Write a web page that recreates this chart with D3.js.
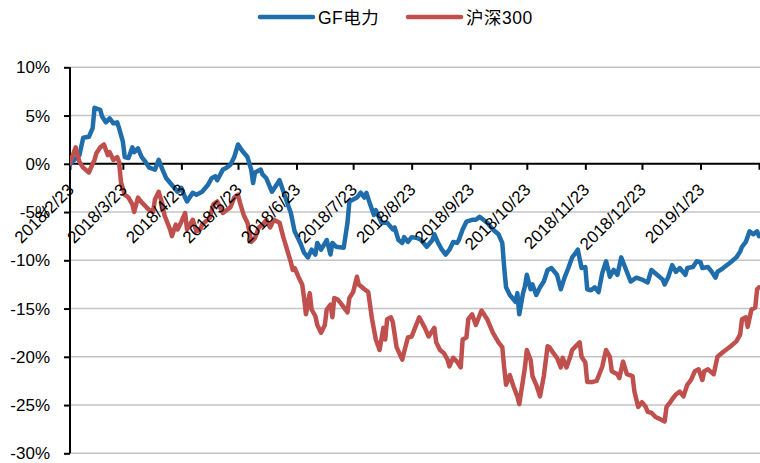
<!DOCTYPE html>
<html><head><meta charset="utf-8">
<script src="https://cdn.jsdelivr.net/npm/d3@7"></script>
<style>
html,body{margin:0;padding:0;background:#fff;}
svg{display:block;font-family:"Liberation Sans",Arial,"Noto Sans CJK SC",sans-serif;}
</style></head>
<body><svg id="c" width="760" height="463"></svg>
<script>
const seriesNames = ["GF电力", "沪深300"];
const seriesColors = ["#1f6dab", "#c0504d"];
const tickDates = ["2018-02-23","2018-03-23","2018-04-23","2018-05-23","2018-06-23","2018-07-23","2018-08-23","2018-09-23","2018-10-23","2018-11-23","2018-12-23","2019-01-23","2019-02-23"];
const tickLabels = ["2018/2/23","2018/3/23","2018/4/23","2018/5/23","2018/6/23","2018/7/23","2018/8/23","2018/9/23","2018/10/23","2018/11/23","2018/12/23","2019/1/23",""];
const yTicks = [10,5,0,-5,-10,-15,-20,-25,-30];

const gfDates = ["2018-02-23","2018-02-28","2018-03-02","2018-03-05","2018-03-07","2018-03-08","2018-03-11","2018-03-12","2018-03-14","2018-03-16","2018-03-18","2018-03-20","2018-03-21","2018-03-23","2018-03-24","2018-03-26","2018-03-28","2018-03-29","2018-03-31","2018-04-02","2018-04-04","2018-04-06","2018-04-09","2018-04-11","2018-04-13","2018-04-15","2018-04-18","2018-04-21","2018-04-23","2018-04-25","2018-04-26","2018-04-29","2018-05-01","2018-05-04","2018-05-07","2018-05-09","2018-05-11","2018-05-12","2018-05-15","2018-05-17","2018-05-19","2018-05-21","2018-05-23","2018-05-25","2018-05-28","2018-05-30","2018-05-31","2018-06-01","2018-06-04","2018-06-05","2018-06-07","2018-06-10","2018-06-14","2018-06-18","2018-06-20","2018-06-22","2018-06-25","2018-06-27","2018-06-29","2018-07-01","2018-07-03","2018-07-04","2018-07-06","2018-07-09","2018-07-11","2018-07-12","2018-07-14","2018-07-18","2018-07-20","2018-07-21","2018-07-23","2018-07-25","2018-07-27","2018-07-29","2018-07-30","2018-08-01","2018-08-03","2018-08-04","2018-08-07","2018-08-10","2018-08-13","2018-08-14","2018-08-16","2018-08-18","2018-08-19","2018-08-21","2018-08-23","2018-08-26","2018-08-28","2018-08-31","2018-09-03","2018-09-04","2018-09-06","2018-09-08","2018-09-10","2018-09-12","2018-09-14","2018-09-16","2018-09-17","2018-09-19","2018-09-21","2018-09-24","2018-09-26","2018-09-28","2018-09-30","2018-10-02","2018-10-05","2018-10-08","2018-10-10","2018-10-11","2018-10-12","2018-10-14","2018-10-17","2018-10-18","2018-10-19","2018-10-21","2018-10-22","2018-10-23","2018-10-25","2018-10-26","2018-10-28","2018-10-30","2018-11-01","2018-11-03","2018-11-05","2018-11-08","2018-11-10","2018-11-12","2018-11-14","2018-11-16","2018-11-18","2018-11-19","2018-11-21","2018-11-23","2018-11-24","2018-11-26","2018-11-28","2018-11-30","2018-12-02","2018-12-04","2018-12-06","2018-12-08","2018-12-10","2018-12-12","2018-12-14","2018-12-17","2018-12-20","2018-12-23","2018-12-26","2018-12-28","2018-12-31","2019-01-03","2019-01-04","2019-01-06","2019-01-08","2019-01-10","2019-01-12","2019-01-15","2019-01-16","2019-01-19","2019-01-21","2019-01-23","2019-01-24","2019-01-27","2019-01-29","2019-01-31","2019-02-01","2019-02-04","2019-02-08","2019-02-11","2019-02-13","2019-02-14","2019-02-16","2019-02-18","2019-02-20","2019-02-22","2019-02-23"];
const gfValues = [0.0,0.9,2.7,2.8,3.7,5.8,5.6,4.9,4.3,4.7,4.2,4.3,3.7,2.3,0.7,0.6,1.7,1.2,1.6,0.7,0.2,-0.4,-0.6,0.4,-0.6,-1.5,-2.2,-2.9,-2.5,-3.5,-3.9,-3.0,-3.2,-2.9,-2.2,-1.5,-1.3,-1.7,-0.6,-0.4,-0.1,0.7,2.0,1.4,0.7,-0.6,-2.0,-0.9,-0.6,-1.1,-1.5,-2.9,-1.7,-4.0,-5.1,-7.0,-8.2,-9.2,-9.7,-8.9,-9.4,-8.2,-8.9,-7.9,-9.4,-8.2,-8.6,-8.7,-6.1,-3.9,-3.7,-3.5,-3.0,-3.5,-3.0,-4.2,-5.3,-4.8,-6.1,-6.1,-6.8,-6.6,-7.9,-8.2,-7.6,-8.1,-7.6,-7.7,-7.9,-8.6,-7.9,-7.3,-8.2,-8.9,-9.4,-8.9,-8.1,-8.2,-7.9,-6.8,-6.0,-5.8,-5.8,-5.5,-5.8,-6.1,-6.8,-7.3,-8.2,-10.7,-12.8,-13.6,-14.3,-13.4,-15.6,-13.4,-12.7,-11.5,-13.0,-12.5,-13.6,-12.8,-12.2,-11.0,-10.8,-11.5,-13.0,-11.8,-10.8,-9.7,-9.2,-8.9,-10.8,-10.7,-13.0,-13.1,-12.8,-13.3,-11.3,-10.1,-11.7,-11.0,-11.5,-9.7,-10.7,-12.2,-11.8,-12.0,-12.3,-11.0,-11.5,-12.0,-12.5,-11.7,-10.5,-11.2,-10.8,-11.5,-10.8,-10.7,-10.1,-10.2,-10.8,-10.7,-11.2,-11.8,-11.2,-10.8,-10.2,-9.7,-9.1,-8.6,-8.1,-7.0,-7.3,-7.0,-7.5];

const hsDates = ["2018-02-23","2018-02-26","2018-02-28","2018-03-02","2018-03-05","2018-03-07","2018-03-08","2018-03-09","2018-03-11","2018-03-13","2018-03-15","2018-03-16","2018-03-18","2018-03-20","2018-03-21","2018-03-22","2018-03-24","2018-03-26","2018-03-28","2018-03-29","2018-03-31","2018-04-02","2018-04-06","2018-04-08","2018-04-09","2018-04-11","2018-04-13","2018-04-14","2018-04-17","2018-04-18","2018-04-20","2018-04-21","2018-04-23","2018-04-25","2018-04-26","2018-04-29","2018-05-01","2018-05-03","2018-05-04","2018-05-08","2018-05-10","2018-05-12","2018-05-15","2018-05-19","2018-05-21","2018-05-23","2018-05-24","2018-05-26","2018-05-28","2018-05-29","2018-05-30","2018-06-01","2018-06-03","2018-06-05","2018-06-07","2018-06-09","2018-06-11","2018-06-13","2018-06-14","2018-06-16","2018-06-18","2018-06-20","2018-06-21","2018-06-22","2018-06-24","2018-06-26","2018-06-27","2018-06-28","2018-06-30","2018-07-01","2018-07-03","2018-07-04","2018-07-06","2018-07-08","2018-07-09","2018-07-11","2018-07-12","2018-07-13","2018-07-15","2018-07-17","2018-07-20","2018-07-21","2018-07-23","2018-07-25","2018-07-26","2018-07-29","2018-07-31","2018-08-02","2018-08-04","2018-08-06","2018-08-08","2018-08-09","2018-08-10","2018-08-12","2018-08-13","2018-08-15","2018-08-18","2018-08-19","2018-08-21","2018-08-23","2018-08-25","2018-08-27","2018-08-30","2018-09-01","2018-09-02","2018-09-04","2018-09-05","2018-09-07","2018-09-09","2018-09-11","2018-09-12","2018-09-14","2018-09-16","2018-09-18","2018-09-19","2018-09-21","2018-09-22","2018-09-24","2018-09-26","2018-09-29","2018-10-02","2018-10-05","2018-10-08","2018-10-10","2018-10-11","2018-10-12","2018-10-14","2018-10-16","2018-10-18","2018-10-19","2018-10-21","2018-10-22","2018-10-23","2018-10-25","2018-10-26","2018-10-28","2018-10-30","2018-11-01","2018-11-03","2018-11-04","2018-11-06","2018-11-08","2018-11-10","2018-11-11","2018-11-13","2018-11-15","2018-11-16","2018-11-18","2018-11-20","2018-11-21","2018-11-23","2018-11-24","2018-11-27","2018-11-29","2018-12-02","2018-12-03","2018-12-04","2018-12-06","2018-12-07","2018-12-10","2018-12-11","2018-12-13","2018-12-15","2018-12-18","2018-12-19","2018-12-21","2018-12-23","2018-12-25","2018-12-26","2018-12-28","2018-12-30","2019-01-02","2019-01-04","2019-01-05","2019-01-07","2019-01-08","2019-01-10","2019-01-12","2019-01-14","2019-01-16","2019-01-18","2019-01-20","2019-01-22","2019-01-24","2019-01-25","2019-01-27","2019-01-30","2019-02-01","2019-02-04","2019-02-08","2019-02-11","2019-02-13","2019-02-14","2019-02-16","2019-02-17","2019-02-19","2019-02-21","2019-02-22","2019-02-23"];
const hsValues = [0.1,1.7,0.2,-0.4,-0.9,0.0,0.4,1.1,1.7,2.0,0.9,1.2,0.4,0.7,0.2,-1.9,-3.2,-3.5,-4.2,-5.0,-3.5,-4.0,-4.8,-5.0,-3.7,-2.9,-4.2,-5.3,-6.8,-7.5,-6.3,-6.8,-6.0,-5.1,-6.8,-5.8,-7.0,-6.8,-6.3,-5.6,-4.2,-3.9,-5.1,-4.5,-3.5,-3.2,-4.0,-5.3,-6.1,-7.0,-8.1,-7.7,-6.6,-6.3,-5.8,-6.6,-5.8,-6.0,-6.1,-7.6,-8.9,-10.2,-11.0,-10.8,-11.7,-12.5,-13.9,-15.6,-13.4,-15.1,-15.8,-16.7,-17.5,-16.7,-15.1,-14.6,-15.9,-13.9,-14.1,-14.6,-15.4,-13.9,-13.3,-11.7,-12.5,-13.0,-13.3,-16.1,-18.2,-19.3,-17.0,-18.2,-16.1,-15.9,-16.4,-19.0,-20.3,-19.5,-18.0,-17.9,-16.9,-15.9,-17.0,-17.9,-17.6,-17.0,-18.5,-19.3,-19.6,-20.3,-21.0,-20.1,-20.5,-21.1,-18.2,-18.0,-16.1,-15.6,-16.7,-15.2,-16.1,-17.5,-18.5,-19.0,-21.1,-22.9,-21.9,-23.1,-24.1,-24.9,-22.4,-21.1,-19.3,-20.3,-22.0,-22.9,-24.1,-22.0,-18.9,-19.0,-19.6,-20.1,-21.1,-20.1,-21.1,-20.0,-19.3,-18.9,-18.5,-20.0,-20.6,-22.6,-22.6,-22.5,-21.0,-20.1,-19.3,-20.0,-21.5,-21.8,-22.2,-20.5,-21.8,-22.0,-23.6,-25.2,-24.7,-25.2,-25.7,-25.8,-26.2,-26.5,-26.7,-25.2,-24.7,-24.4,-23.9,-23.6,-24.1,-22.9,-22.4,-21.5,-21.3,-22.4,-21.5,-21.3,-21.8,-20.0,-19.5,-18.9,-18.4,-17.7,-16.1,-15.9,-16.9,-15.1,-14.9,-13.0,-12.8];

const parse = d3.utcParse("%Y-%m-%d");
const svg = d3.select("#c");
const left = 70, right = 760;
const fontLatin = "'Liberation Sans', Arial, sans-serif";

const x = d3.scaleUtc().domain([parse("2018-02-23"), parse("2019-02-23")]).range([70, 759]);
const y = d3.scaleLinear().domain([-30, 10]).range([453.3, 67.3]);

// gridlines
svg.append("g").selectAll("line").data(yTicks.filter(v => v !== 0)).join("line")
  .attr("x1", left).attr("x2", right)
  .attr("y1", d => y(d)).attr("y2", d => y(d))
  .attr("stroke", "#c4c4c4").attr("stroke-width", 1.6);

// y axis
const yAxis = svg.append("g").attr("transform", `translate(${left},0)`)
  .call(d3.axisLeft(y).tickValues(yTicks).tickFormat(d => d + "%").tickSize(6).tickPadding(14));
yAxis.select(".domain").attr("stroke", "#000").attr("stroke-width", 2).attr("d", `M0,${y(10)}V${y(-30)}`);
yAxis.selectAll(".tick line").attr("stroke", "#000").attr("stroke-width", 2);
yAxis.selectAll(".tick text").attr("font-size", 17).attr("fill", "#000").attr("font-family", fontLatin);

// x axis line at 0
const xAxis = svg.append("g").attr("transform", `translate(0,${y(0)})`)
  .call(d3.axisBottom(x).tickValues(tickDates.map(parse)).tickFormat("").tickSize(6));
xAxis.select(".domain").attr("stroke", "#000").attr("stroke-width", 2).attr("d", `M${left},0H${right}`);
xAxis.selectAll(".tick line").attr("stroke", "#000").attr("stroke-width", 2);

// series lines
svg.append("clipPath").attr("id", "clip").append("rect")
  .attr("x", left).attr("y", 0).attr("width", right - left).attr("height", 463);
const line = d3.line().x(d => x(d.date)).y(d => y(d.value)).curve(d3.curveLinear);
const series = [
  gfDates.map((d, i) => ({date: parse(d), value: gfValues[i]})),
  hsDates.map((d, i) => ({date: parse(d), value: hsValues[i]}))
];
const lg = svg.append("g").attr("clip-path", "url(#clip)");
series.forEach((s, i) => {
  lg.append("path").datum(s).attr("d", line)
    .attr("fill", "none").attr("stroke", seriesColors[i]).attr("stroke-width", 4.5)
    .attr("stroke-linejoin", "round").attr("stroke-linecap", "round");
});

// x tick labels (rotated)
svg.append("g").selectAll("text").data(tickDates.map((d, i) => ({date: parse(d), label: tickLabels[i]})))
  .join("text")
  .attr("transform", d => `translate(${x(d.date) + 5},${y(0) + 27}) rotate(-45)`)
  .attr("text-anchor", "end").attr("font-size", 17).attr("fill", "#000")
  .attr("font-family", fontLatin)
  .text(d => d.label);

// legend
const legendX = [260, 408];
const leg = svg.append("g");
seriesNames.forEach((n, i) => {
  leg.append("line").attr("x1", legendX[i]).attr("x2", legendX[i] + 53)
    .attr("y1", 17).attr("y2", 17).attr("stroke", seriesColors[i]).attr("stroke-width", 4.5)
    .attr("stroke-linecap", "round");
  leg.append("text").attr("x", legendX[i] + 58).attr("y", 23.5).attr("font-size", 17.5).attr("fill", "#000")
    .attr("font-family", "'Liberation Sans', Arial, 'Noto Sans CJK SC', sans-serif")
    .attr("letter-spacing", 0.5)
    .text(n);
});
</script></body></html>
